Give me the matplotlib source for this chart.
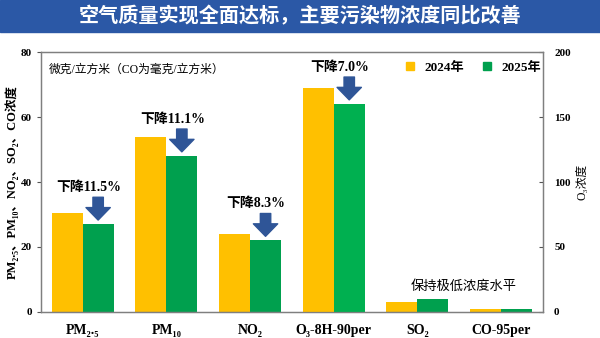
import matplotlib
matplotlib.use('Agg')
import matplotlib.pyplot as plt
import numpy as np
from matplotlib.patches import Rectangle
from matplotlib.lines import Line2D

# data
categories = ['PM₂.₅', 'PM₁₀', 'NO₂', 'O₃-8H-90per', 'SO₂', 'CO-95per']
vals_2024 = [30.5, 54, 24, 172, 3, 1.0]
vals_2025 = [27.0, 48, 22, 160, 4, 0.9]
on_right = [False, False, False, True, False, False]   # O3 uses the right axis
drops = ['下降11.5%', '下降11.1%', '下降8.3%', '下降7.0%', None, None]

left_ticks = [0, 20, 40, 60, 80]
right_ticks = [0, 50, 100, 150, 200]

YELLOW = '#FFC000'
GREEN = '#00A04E'
GREEN_O3 = '#00B050'
BLUE = '#2F5597'
BAR_BLUE = '#2B58A6'

SERIF_CJK = ['Liberation Serif', 'DejaVu Serif', 'Noto Sans CJK SC']
CJK = ['Noto Sans CJK SC', 'DejaVu Sans']

fig = plt.figure(figsize=(6, 3.38), dpi=100)

# title bar
fig.patches.append(Rectangle((0, 0.905), 1, 0.095, transform=fig.transFigure,
                             color=BAR_BLUE, zorder=0))
fig.text(0.5, 0.952, '空气质量实现全面达标，主要污染物浓度同比改善', color='white',
         ha='center', va='center', fontsize=14.5, fontweight='bold', family=CJK)

ax = fig.add_axes([0.068, 0.077, 0.837, 0.769])
ax2 = ax.twinx()

x = np.arange(len(categories))
w = 0.37
for i in range(len(categories)):
    a = ax2 if on_right[i] else ax
    g = GREEN_O3 if on_right[i] else GREEN
    a.bar(x[i] - w / 2, vals_2024[i], w, color=YELLOW, zorder=2)
    a.bar(x[i] + w / 2, vals_2025[i], w, color=g, zorder=2)

ax.set_xlim(-0.5, len(categories) - 0.5)
ax.set_ylim(0, 80)
ax2.set_ylim(0, 200)
ax.set_yticks(left_ticks)
ax2.set_yticks(right_ticks)
ax.set_xticks(x)
ax.set_xticklabels(categories, family=SERIF_CJK, fontweight='bold', fontsize=10)
ax.tick_params(axis='x', length=0, pad=9)
ax.tick_params(axis='y', direction='out', length=3, labelsize=8, color='#555555')
ax2.tick_params(axis='y', direction='in', length=3, labelsize=8, color='#555555', pad=8)
for lab in ax.get_yticklabels() + ax2.get_yticklabels():
    lab.set_family(SERIF_CJK)
    lab.set_fontweight('bold')

for a in (ax, ax2):
    for s in a.spines.values():
        s.set_color('#7f7f7f')
        s.set_linewidth(0.9)

ax.set_ylabel('PM₂.₅、PM₁₀、NO₂、SO₂、CO浓度', family=SERIF_CJK, fontweight='bold',
              fontsize=9, va='center')
ax.yaxis.set_label_coords(-0.058, 0.5)
ax2.set_ylabel('O₃浓度', family=SERIF_CJK, fontsize=8.5, labelpad=4)

# unit note
ax.text(0.015, 0.955, '微克/立方米（CO为毫克/立方米）', transform=ax.transAxes,
        fontsize=8.5, family=SERIF_CJK, va='top', ha='left')

# legend
handles = [Line2D([], [], marker='s', ls='', color=YELLOW, markersize=6),
           Line2D([], [], marker='s', ls='', color=GREEN, markersize=6)]
ax.legend(handles, ['2024年', '2025年'], loc='upper right', ncol=2,
          frameon=False, handletextpad=0.1, columnspacing=0.7,
          bbox_to_anchor=(1.02, 1.01), prop={'family': SERIF_CJK, 'weight': 'bold', 'size': 9.5})

# drop labels with block arrows over the 2025 bars
for i, txt in enumerate(drops):
    if txt is None:
        continue
    a = ax2 if on_right[i] else ax
    top = vals_2025[i]
    a.annotate('', xy=(x[i] + w / 2, top), xytext=(0, 27),
               textcoords='offset pixels',
               arrowprops=dict(arrowstyle='simple,head_length=0.9,head_width=1.75,tail_width=0.75',
                               mutation_scale=10, color=BLUE, shrinkA=0, shrinkB=3))
    a.annotate(txt, xy=(x[i] + 0.07, top), xytext=(0, 37), textcoords='offset pixels',
               ha='center', va='center', fontsize=10, fontweight='bold', family=SERIF_CJK)

ax.text(4.55, 7.8, '保持极低浓度水平', ha='center', va='center', fontsize=9.5, family=CJK)

fig.savefig('out.png', dpi=100)
